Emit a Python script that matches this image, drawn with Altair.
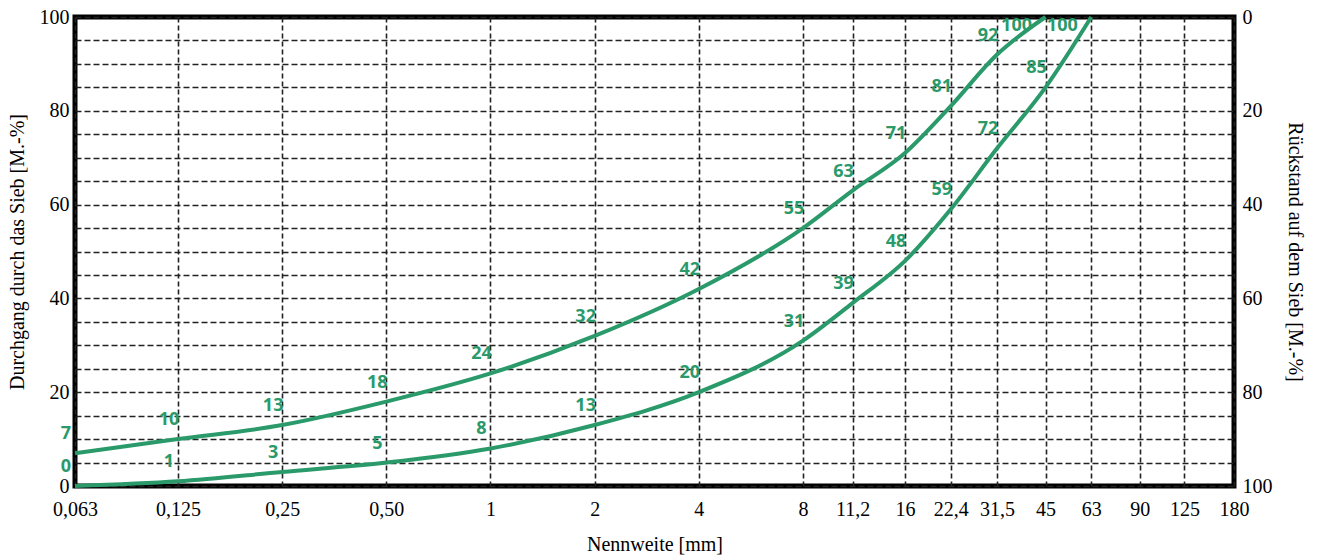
import altair as alt
import pandas as pd

# Sieve sizes (mm) and their German tick labels
sieve_ticks = [0.063, 0.125, 0.25, 0.5, 1, 2, 4, 8, 11.2, 16, 22.4, 31.5, 45, 63, 90, 125, 180]
tick_labels = ["0,063", "0,125", "0,25", "0,50", "1", "2", "4", "8", "11,2", "16",
               "22,4", "31,5", "45", "63", "90", "125", "180"]

# Upper grading curve
upper_sizes = [0.063, 0.125, 0.25, 0.5, 1, 2, 4, 8, 11.2, 16, 22.4, 31.5, 45]
upper_pass = [7, 10, 13, 18, 24, 32, 42, 55, 63, 71, 81, 92, 100]

# Lower grading curve
lower_sizes = [0.063, 0.125, 0.25, 0.5, 1, 2, 4, 8, 11.2, 16, 22.4, 31.5, 45, 63]
lower_pass = [0, 1, 3, 5, 8, 13, 20, 31, 39, 48, 59, 72, 85, 100]

df = pd.concat([
    pd.DataFrame({"size": upper_sizes, "pass": upper_pass, "curve": "upper"}),
    pd.DataFrame({"size": lower_sizes, "pass": lower_pass, "curve": "lower"}),
], ignore_index=True)

GREEN = "#2a9a6b"
SERIF = "'Liberation Serif', 'Times New Roman', Times, serif"

ticks_js = "[" + ",".join(str(v) for v in sieve_ticks) + "]"
labels_js = "[" + ",".join("'" + s + "'" for s in tick_labels) + "]"

x_enc = alt.X(
    "size:Q",
    scale=alt.Scale(type="log", domain=[0.063, 8, 16, 180], range=[0, 728, 830, 1159]),
    axis=alt.Axis(
        values=sieve_ticks,
        labelExpr=labels_js + "[indexof(" + ticks_js + ", datum.value)]",
        title="Nennweite [mm]",
        grid=True, gridColor="#222222", gridDash=[5, 3], gridWidth=1.6, gridOpacity=1,
        ticks=False, domain=False,
        labelFont=SERIF, labelFontSize=20, labelColor="black", labelPadding=13,
        labelFlush=False, labelOverlap=False,
        titleFont=SERIF, titleFontSize=20, titleFontWeight="normal", titleColor="black",
        titlePadding=15,
    ),
)

y_scale = alt.Scale(domain=[0, 100], nice=False)

lines = alt.Chart(df).mark_line(
    color=GREEN, strokeWidth=4, interpolate="monotone"
).encode(
    x=x_enc,
    y=alt.Y(
        "pass:Q", scale=y_scale,
        axis=alt.Axis(
            values=list(range(0, 101, 5)),
            labelExpr="datum.value % 20 == 0 ? datum.value : ''",
            title="Durchgang durch das Sieb [M.-%]",
            grid=True, gridColor="#222222", gridDash=[6, 3], gridWidth=1.6, gridOpacity=1,
            ticks=False, domain=False,
            labelFont=SERIF, labelFontSize=20, labelColor="black", labelPadding=6,
            labelFlush=False, labelOverlap=False,
            titleFont=SERIF, titleFontSize=20, titleFontWeight="normal", titleColor="black",
            titlePadding=12,
        ),
    ),
    detail="curve:N",
)

labels_main = alt.Chart(df).transform_filter("datum.pass < 100").mark_text(
    color=GREEN, font="Open Sans", fontWeight="bold", fontSize=18,
    dx=-9, dy=-19, align="center", baseline="middle"
).encode(
    x=x_enc,
    y=alt.Y(
        "pass:Q", scale=y_scale,
        axis=alt.Axis(
            values=list(range(0, 101, 20)),
            labelExpr="100 - datum.value",
            orient="right",
            title="Rückstand auf dem Sieb [M.-%]",
            grid=False, ticks=False, domain=False,
            labelFont=SERIF, labelFontSize=20, labelColor="black", labelPadding=8,
            labelFlush=False, labelOverlap=False,
            titleFont=SERIF, titleFontSize=20, titleFontWeight="normal", titleColor="black",
            titlePadding=12,
        ),
    ),
    text="pass:Q",
)

labels_top = alt.Chart(df).transform_filter("datum.pass >= 100").mark_text(
    color=GREEN, font="Open Sans", fontWeight="bold", fontSize=18,
    dx=-29, dy=9, align="center", baseline="middle"
).encode(
    x=x_enc,
    y=alt.Y("pass:Q", scale=y_scale, axis=None),
    text="pass:Q",
)

chart = alt.layer(lines, labels_main, labels_top).resolve_axis(
    y="independent"
).properties(
    width=1159, height=469,
    autosize=alt.AutoSizeParams(type="none"),
    padding={"left": 75, "top": 17, "right": 83, "bottom": 73},
    background="white",
).configure_view(
    stroke="black", strokeWidth=5
)

chart.save("out.html", embed_options={"renderer": "svg", "actions": False})
